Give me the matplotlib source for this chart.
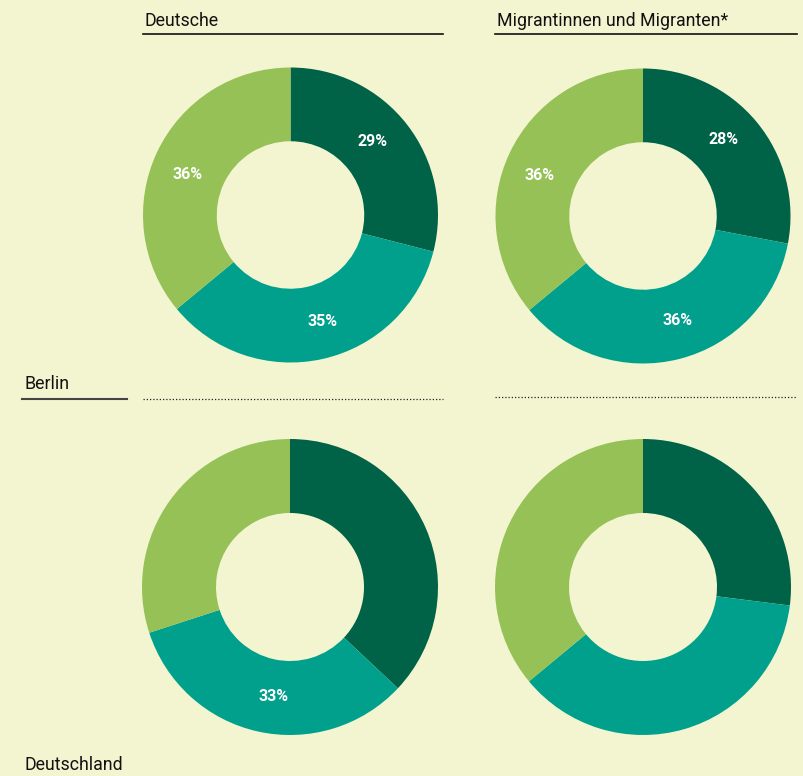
"""Donut charts: Deutsche vs. Migrantinnen und Migranten, Berlin / Deutschland."""

import numpy as np
import matplotlib
matplotlib.use("Agg")
import matplotlib.pyplot as plt
from matplotlib.lines import Line2D

W, H = 804, 776
BG = "#f3f5d0"
COLORS = ["#006247", "#00a08c", "#96c156"]

col_titles = ["Deutsche", "Migrantinnen und Migranten*"]
row_titles = ["Berlin", "Deutschland"]

berlin_deutsche = [29, 35, 36]
berlin_migranten = [28, 36, 36]
deutschland_deutsche = [37, 33, 30]
deutschland_migranten = [27, 37, 36]

berlin_deutsche_labels = ["29%", "35%", "36%"]
berlin_migranten_labels = ["28%", "36%", "36%"]
deutschland_deutsche_labels = ["", "33%", ""]
deutschland_migranten_labels = ["", "", ""]

plt.rcParams["font.family"] = ["Roboto", "DejaVu Sans"]

fig = plt.figure(figsize=(W / 100, H / 100), dpi=100, facecolor=BG)


def fx(x):
    return x / W


def fy(y):
    return 1 - y / H


def donut(cx, cy, r, values, labels):
    ax = fig.add_axes([fx(cx - r), fy(cy + r), 2 * r / W, 2 * r / H])
    ax.set_facecolor(BG)
    wedges, _ = ax.pie(values, colors=COLORS, startangle=90, counterclock=False,
                       radius=1, wedgeprops=dict(width=0.5, linewidth=0))
    # labels sit in the middle of the ring, nudged a bit counterclockwise like the original
    for w, lab in zip(wedges, labels):
        if not lab:
            continue
        ang = np.deg2rad((w.theta1 + w.theta2) / 2 + 4)
        ax.text(0.75 * np.cos(ang), 0.75 * np.sin(ang), lab, ha="center", va="center",
                color="white", fontsize=11.5, fontweight="bold",
                family=["Roboto", "DejaVu Sans"])
    ax.set_xlim(-1, 1)
    ax.set_ylim(-1, 1)
    ax.axis("off")


donut(290.5, 215, 147.5, berlin_deutsche, berlin_deutsche_labels)
donut(643, 216, 147.5, berlin_migranten, berlin_migranten_labels)
donut(290, 587, 148, deutschland_deutsche, deutschland_deutsche_labels)
donut(643, 587, 148, deutschland_migranten, deutschland_migranten_labels)

txt = dict(ha="left", va="center", fontsize=12.8, color="#111111")

# column headers
fig.text(fx(145), fy(21), col_titles[0], **txt)
fig.text(fx(497), fy(21), col_titles[1], **txt)
fig.add_artist(Line2D([fx(143), fx(443)], [fy(34), fy(34)], color="#111111", lw=1.2))
fig.add_artist(Line2D([fx(495), fx(797)], [fy(34), fy(34)], color="#111111", lw=1.2))

# row labels
fig.text(fx(25), fy(384), row_titles[0], **txt)
fig.text(fx(25), fy(765), row_titles[1], **txt)
fig.add_artist(Line2D([fx(22), fx(127)], [fy(399), fy(399)], color="#444444", lw=1.5))
fig.add_artist(Line2D([fx(143), fx(443)], [fy(399), fy(399)], color="#222222", lw=0.9,
                      linestyle=(0, (1, 1.6))))
fig.add_artist(Line2D([fx(495), fx(797)], [fy(397), fy(397)], color="#222222", lw=0.9,
                      linestyle=(0, (1, 1.6))))

fig.savefig("out.png", dpi=100, facecolor=BG)
